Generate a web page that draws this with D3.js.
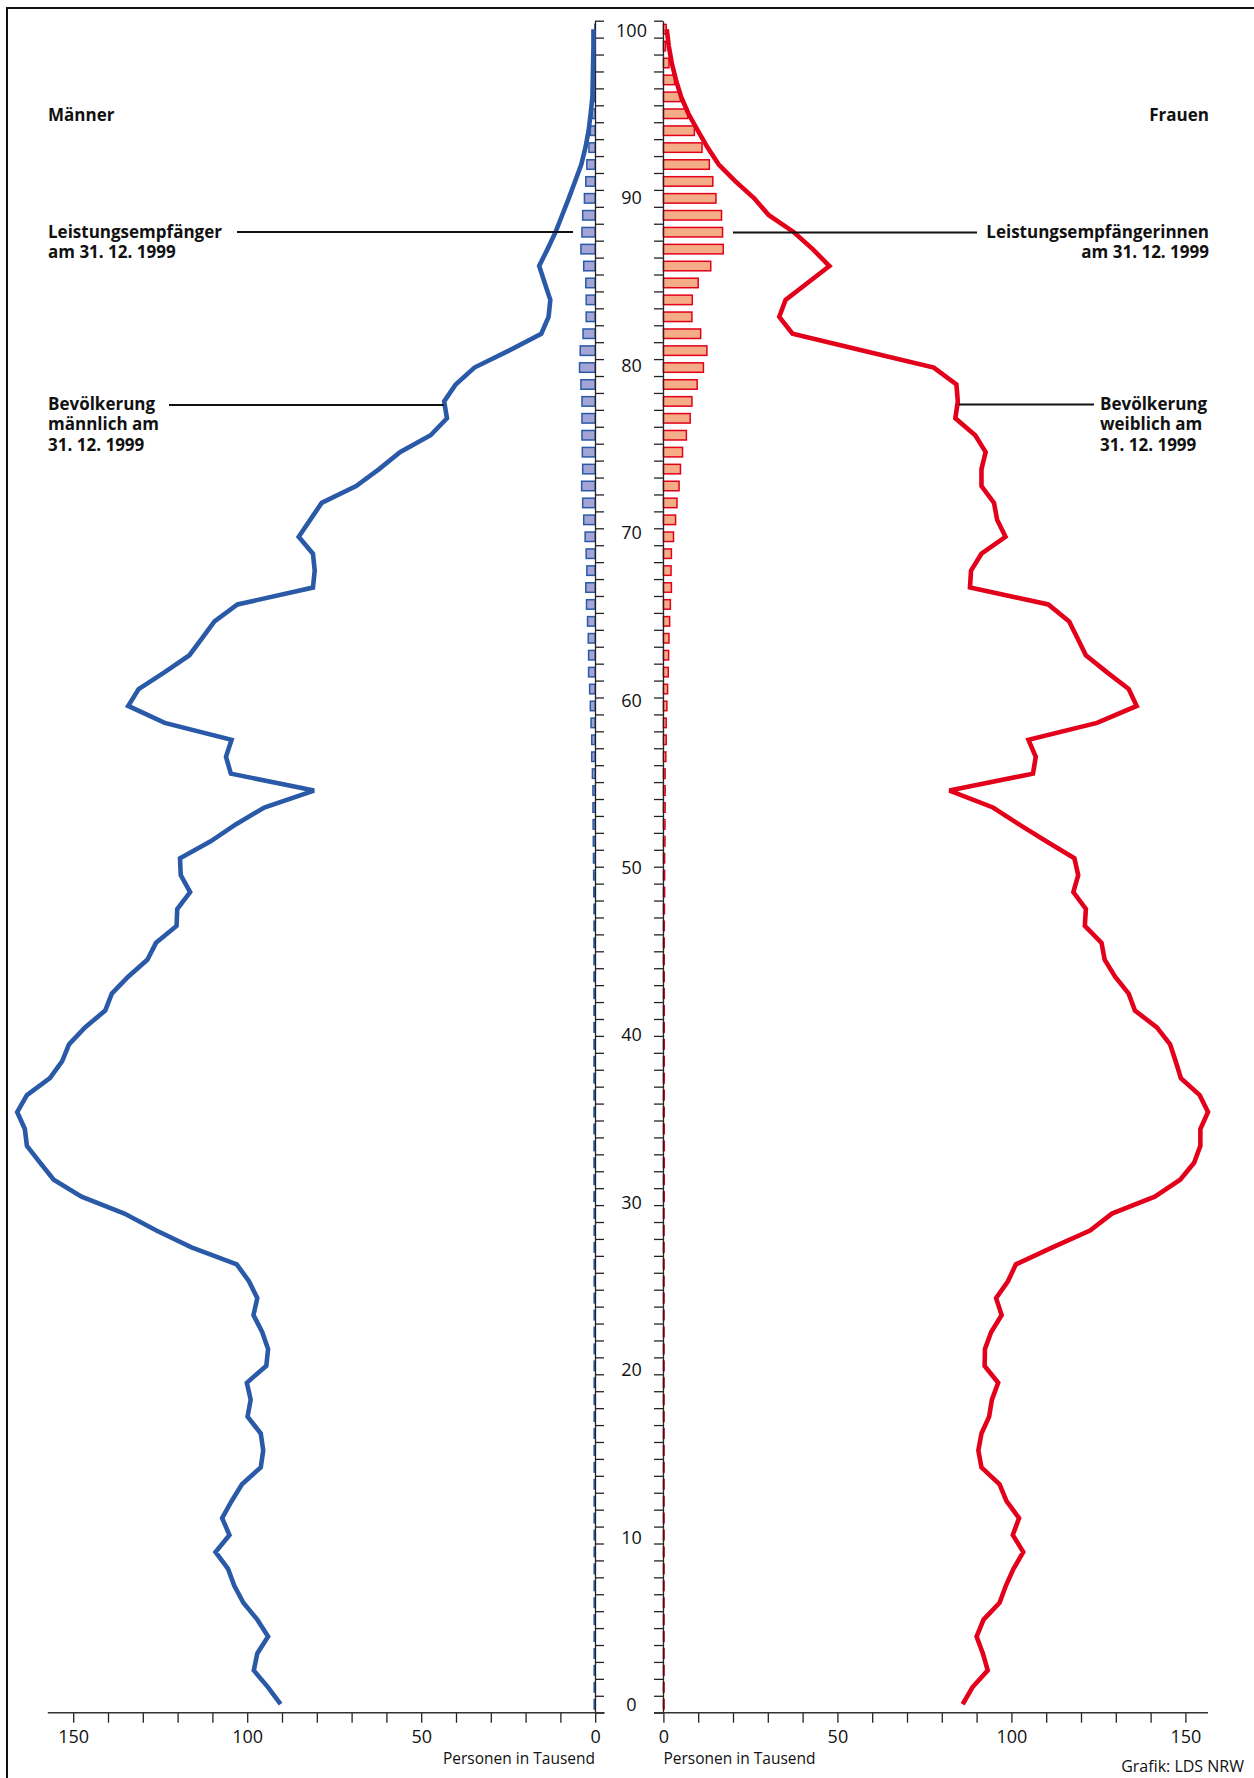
<!DOCTYPE html>
<html>
<head>
<meta charset="utf-8">
<script src="https://cdn.jsdelivr.net/npm/d3@7"></script>
<style>
    body { margin: 0; background: #fff; }
    svg { display: block; font-family: 'Open Sans', sans-serif; }
    .label { font-size: 17px; font-weight: 700; fill: #111; }
    .tick text, .age-label { font-size: 18px; fill: #111; font-family: 'Open Sans', sans-serif; }
    .note { font-size: 15.5px; fill: #111; }
</style>
</head>
<body>
<div class="container"></div>
<script>
var SVG_WIDTH = 1254;
var SVG_HEIGHT = 1778;

// age 0 .. 99 (one band per year)
var AGES = d3.range(0, 100);

// population 31.12.1999 in thousands, age 0 .. 99
var MALE_POPULATION = [
    90.4, 94.0, 98.1, 97.1, 94.0, 97.1, 101.1, 103.7, 105.5, 109.1,
    105.1, 107.2, 104.5, 101.5, 96.1, 95.4, 96.1, 99.9, 99.0, 100.1,
    94.5, 94.0, 95.7, 98.2, 97.1, 99.5, 103.0, 116.0, 126.1, 135.3,
    147.6, 155.6, 159.5, 163.3, 163.9, 166.1, 163.3, 156.7, 153.2, 151.2,
    146.6, 140.8, 138.9, 134.2, 128.7, 126.2, 120.3, 120.1, 116.4, 119.1,
    119.3, 110.5, 103.3, 95.1, 80.8, 104.7, 106.1, 104.5, 123.7, 134.2,
    131.2, 123.7, 116.6, 113.0, 109.4, 102.8, 81.1, 80.6, 81.1, 85.2,
    81.9, 78.6, 68.7, 62.1, 56.1, 47.3, 42.6, 43.4, 40.1, 34.7,
    24.8, 15.5, 13.4, 12.9, 14.5, 16.1, 13.7, 11.4, 9.5, 7.6,
    5.8, 4.0, 2.8, 1.9, 1.3, 0.8, 0.7, 0.6, 0.5, 0.5
];
var FEMALE_POPULATION = [
    86.0, 88.8, 93.2, 91.8, 90.0, 92.0, 96.6, 98.4, 100.6, 103.4,
    100.4, 102.2, 98.6, 96.6, 91.4, 90.5, 91.4, 93.6, 94.4, 96.2,
    92.3, 92.4, 94.2, 97.2, 95.6, 99.0, 101.3, 111.8, 122.6, 128.9,
    141.2, 148.5, 152.5, 154.3, 154.3, 156.5, 154.1, 148.7, 147.2, 145.6,
    141.8, 135.5, 133.7, 129.8, 126.8, 125.9, 121.1, 121.4, 117.8, 119.2,
    118.1, 110.0, 102.2, 94.7, 82.2, 106.2, 107.0, 104.9, 124.6, 136.0,
    133.7, 127.4, 121.4, 119.0, 116.6, 110.6, 88.1, 88.4, 91.4, 98.3,
    95.9, 95.0, 91.4, 91.4, 92.6, 89.6, 83.9, 84.6, 84.2, 77.7,
    57.5, 37.1, 33.3, 35.1, 41.4, 47.7, 42.9, 37.5, 30.3, 26.1,
    20.7, 15.9, 12.7, 9.9, 7.2, 5.1, 3.6, 2.4, 1.55, 0.96
];

// Leistungsempfänger 31.12.1999 in thousands, age 0 .. 99
var MALE_RECIPIENTS = [
    0.3, 0.3, 0.3, 0.3, 0.3, 0.3, 0.3, 0.3, 0.3, 0.3,
    0.3, 0.3, 0.3, 0.3, 0.3, 0.3, 0.3, 0.3, 0.3, 0.3,
    0.3, 0.3, 0.3, 0.3, 0.3, 0.3, 0.3, 0.3, 0.3, 0.3,
    0.35, 0.35, 0.35, 0.35, 0.35, 0.35, 0.35, 0.35, 0.35, 0.35,
    0.35, 0.35, 0.35, 0.35, 0.35, 0.35, 0.35, 0.35, 0.4, 0.45,
    0.5, 0.55, 0.6, 0.65, 0.65, 0.8, 1.0, 1.0, 1.2, 1.4,
    1.6, 1.9, 1.9, 2.0, 2.2, 2.5, 2.7, 2.4, 2.6, 2.9,
    3.3, 3.6, 3.9, 3.6, 3.7, 3.8, 3.8, 3.8, 4.1, 4.5,
    4.3, 3.5, 2.6, 2.6, 2.7, 3.3, 4.1, 3.8, 3.6, 3.1,
    2.7, 2.4, 1.8, 1.4, 0.9, 0.3, 0.2, 0.15, 0.1, 0.1
];
var FEMALE_RECIPIENTS = [
    0.2, 0.2, 0.2, 0.2, 0.2, 0.2, 0.2, 0.2, 0.2, 0.2,
    0.2, 0.2, 0.2, 0.2, 0.2, 0.2, 0.2, 0.2, 0.2, 0.2,
    0.2, 0.2, 0.2, 0.2, 0.2, 0.2, 0.2, 0.2, 0.2, 0.2,
    0.25, 0.25, 0.25, 0.25, 0.25, 0.25, 0.25, 0.25, 0.25, 0.25,
    0.25, 0.25, 0.25, 0.25, 0.25, 0.25, 0.25, 0.3, 0.35, 0.35,
    0.35, 0.45, 0.45, 0.5, 0.5, 0.5, 0.7, 0.8, 0.8, 1.0,
    1.2, 1.4, 1.5, 1.6, 1.8, 2.0, 2.3, 2.2, 2.3, 2.9,
    3.5, 3.9, 4.5, 4.9, 5.5, 6.6, 7.7, 8.2, 9.7, 11.5,
    12.5, 10.7, 8.2, 8.3, 10.0, 13.6, 17.2, 17.0, 16.7, 15.1,
    14.2, 13.2, 11.1, 8.9, 7.0, 4.9, 3.2, 1.6, 0.6, 0.8
];

var AGE_LABELS = [0, 10, 20, 30, 40, 50, 60, 70, 80, 90, 100];
var VALUE_TICKS = [0, 10, 20, 30, 40, 50, 60, 70, 80, 90, 100, 110, 120, 130, 140, 150];
var VALUE_LABELS = [0, 50, 100, 150];

var MALE_COLOR = '#2a5aa7';
var MALE_FILL = '#a3a5d6';
var FEMALE_COLOR = '#e2001a';
var FEMALE_FILL = '#f5ad88';

document.addEventListener('DOMContentLoaded', function () {
    var svg = d3.select('.container')
        .append('svg')
        .attr('width', SVG_WIDTH)
        .attr('height', SVG_HEIGHT);

    // page frame (top and left edge only)
    svg.append('path')
        .attr('d', 'M7,1778V8H1254')
        .attr('fill', 'none')
        .attr('stroke', '#111')
        .attr('stroke-width', 2);

    var xMale = d3.scaleLinear().domain([0, 150]).range([595.2, 73.2]);
    var xFemale = d3.scaleLinear().domain([0, 150]).range([663.4, 1185.4]);

    var yBand = d3.scaleBand()
        .domain(AGES.slice().reverse())
        .range([20.7, 1712.7]);
    var yTick = d3.scaleLinear().domain([0, 100]).range([1712.7, 20.7]);
    var yLabel = d3.scaleLinear().domain([0, 100]).range([1704.5, 30.5]);

    function yPoint(age) {
        return yBand(age) + yBand.bandwidth() / 2;
    }

    var BAR_H = 9.5;

    // recipient bars
    svg.append('g')
        .selectAll('rect')
        .data(AGES)
        .enter()
        .append('rect')
        .attr('x', function (d) { return xMale(MALE_RECIPIENTS[d]); })
        .attr('y', function (d) { return yBand(d) + (yBand.bandwidth() - BAR_H) / 2; })
        .attr('width', function (d) { return xMale(0) - xMale(MALE_RECIPIENTS[d]); })
        .attr('height', BAR_H)
        .attr('fill', MALE_FILL)
        .attr('stroke', MALE_COLOR)
        .attr('stroke-width', 1.5);

    svg.append('g')
        .selectAll('rect')
        .data(AGES)
        .enter()
        .append('rect')
        .attr('x', xFemale(0))
        .attr('y', function (d) { return yBand(d) + (yBand.bandwidth() - BAR_H) / 2; })
        .attr('width', function (d) { return xFemale(FEMALE_RECIPIENTS[d]) - xFemale(0); })
        .attr('height', BAR_H)
        .attr('fill', FEMALE_FILL)
        .attr('stroke', FEMALE_COLOR)
        .attr('stroke-width', 1.5);

    // age axes
    var maleAgeAxis = d3.axisRight(yTick)
        .tickValues(d3.range(0, 101))
        .tickSize(9)
        .tickSizeOuter(0)
        .tickFormat('');
    var femaleAgeAxis = d3.axisLeft(yTick)
        .tickValues(d3.range(0, 101))
        .tickSize(9)
        .tickSizeOuter(0)
        .tickFormat('');

    svg.append('g')
        .attr('class', 'age-axis')
        .attr('transform', 'translate(595,0)')
        .call(maleAgeAxis);
    svg.append('g')
        .attr('class', 'age-axis')
        .attr('transform', 'translate(663,0)')
        .call(femaleAgeAxis);
    svg.selectAll('.age-axis path, .age-axis line')
        .attr('stroke', '#222')
        .attr('stroke-width', 1.3);

    svg.append('g')
        .selectAll('text')
        .data(AGE_LABELS)
        .enter()
        .append('text')
        .attr('class', 'age-label')
        .attr('x', 631.5)
        .attr('y', function (d) { return yLabel(d); })
        .attr('dy', '0.36em')
        .attr('text-anchor', 'middle')
        .text(function (d) { return d; });

    // value axes
    function valueAxis(axis) {
        return axis
            .tickValues(VALUE_TICKS)
            .tickSize(10)
            .tickSizeOuter(0)
            .tickPadding(8)
            .tickFormat(function (d) {
                return VALUE_LABELS.indexOf(d) >= 0 ? d : '';
            });
    }

    var maleAxisG = svg.append('g')
        .attr('class', 'value-axis')
        .attr('transform', 'translate(0,1712.7)')
        .call(valueAxis(d3.axisBottom(xMale)));
    var femaleAxisG = svg.append('g')
        .attr('class', 'value-axis')
        .attr('transform', 'translate(0,1712.7)')
        .call(valueAxis(d3.axisBottom(xFemale)));
    svg.selectAll('.value-axis .domain').remove();
    svg.selectAll('.value-axis line')
        .attr('stroke', '#222')
        .attr('stroke-width', 1.3);

    maleAxisG.append('line')
        .attr('x1', xMale(157.3))
        .attr('x2', xMale(-2.7))
        .attr('stroke', '#333')
        .attr('stroke-width', 1.5);
    femaleAxisG.append('line')
        .attr('x1', xFemale(-2.7))
        .attr('x2', xFemale(156.5))
        .attr('stroke', '#333')
        .attr('stroke-width', 1.5);

    // population lines
    var maleLine = d3.line()
        .x(function (d) { return xMale(MALE_POPULATION[d]); })
        .y(function (d) { return yPoint(d); });
    var femaleLine = d3.line()
        .x(function (d) { return xFemale(FEMALE_POPULATION[d]); })
        .y(function (d) { return yPoint(d); });

    svg.append('path')
        .datum(AGES)
        .attr('d', maleLine)
        .attr('fill', 'none')
        .attr('stroke', MALE_COLOR)
        .attr('stroke-width', 4.6)
        .attr('stroke-linejoin', 'miter')
        .attr('stroke-miterlimit', 3);
    svg.append('path')
        .datum(AGES)
        .attr('d', femaleLine)
        .attr('fill', 'none')
        .attr('stroke', FEMALE_COLOR)
        .attr('stroke-width', 4.6)
        .attr('stroke-linejoin', 'miter')
        .attr('stroke-miterlimit', 3);

    // labels
    function multiLine(x, y, lines, anchor) {
        var t = svg.append('text')
            .attr('class', 'label')
            .attr('x', x)
            .attr('y', y)
            .attr('text-anchor', anchor);
        lines.forEach(function (s, i) {
            t.append('tspan')
                .attr('x', x)
                .attr('dy', i === 0 ? 0 : 20.3)
                .text(s);
        });
    }

    multiLine(48, 121.4, ['Männer'], 'start');
    multiLine(1209, 121.4, ['Frauen'], 'end');
    multiLine(48, 237.5, ['Leistungsempfänger', 'am 31. 12. 1999'], 'start');
    multiLine(1209, 238, ['Leistungsempfängerinnen', 'am 31. 12. 1999'], 'end');
    multiLine(48, 410, ['Bevölkerung', 'männlich am', '31. 12. 1999'], 'start');
    multiLine(1100, 410, ['Bevölkerung', 'weiblich am', '31. 12. 1999'], 'start');

    var leaders = [
        [237, 573, 232],
        [169, 444, 405],
        [733, 977, 232.5],
        [959, 1094, 404.5]
    ];
    svg.append('g')
        .selectAll('line')
        .data(leaders)
        .enter()
        .append('line')
        .attr('x1', function (d) { return d[0]; })
        .attr('x2', function (d) { return d[1]; })
        .attr('y1', function (d) { return d[2]; })
        .attr('y2', function (d) { return d[2]; })
        .attr('stroke', '#111')
        .attr('stroke-width', 2);

    svg.append('text')
        .attr('class', 'note')
        .attr('x', 595)
        .attr('y', 1764)
        .attr('text-anchor', 'end')
        .text('Personen in Tausend');
    svg.append('text')
        .attr('class', 'note')
        .attr('x', 663.5)
        .attr('y', 1764)
        .text('Personen in Tausend');
    svg.append('text')
        .attr('class', 'note')
        .attr('x', 1244)
        .attr('y', 1771.5)
        .attr('text-anchor', 'end')
        .style('font-size', '16px')
        .text('Grafik: LDS NRW');
});
</script>
</body>
</html>
